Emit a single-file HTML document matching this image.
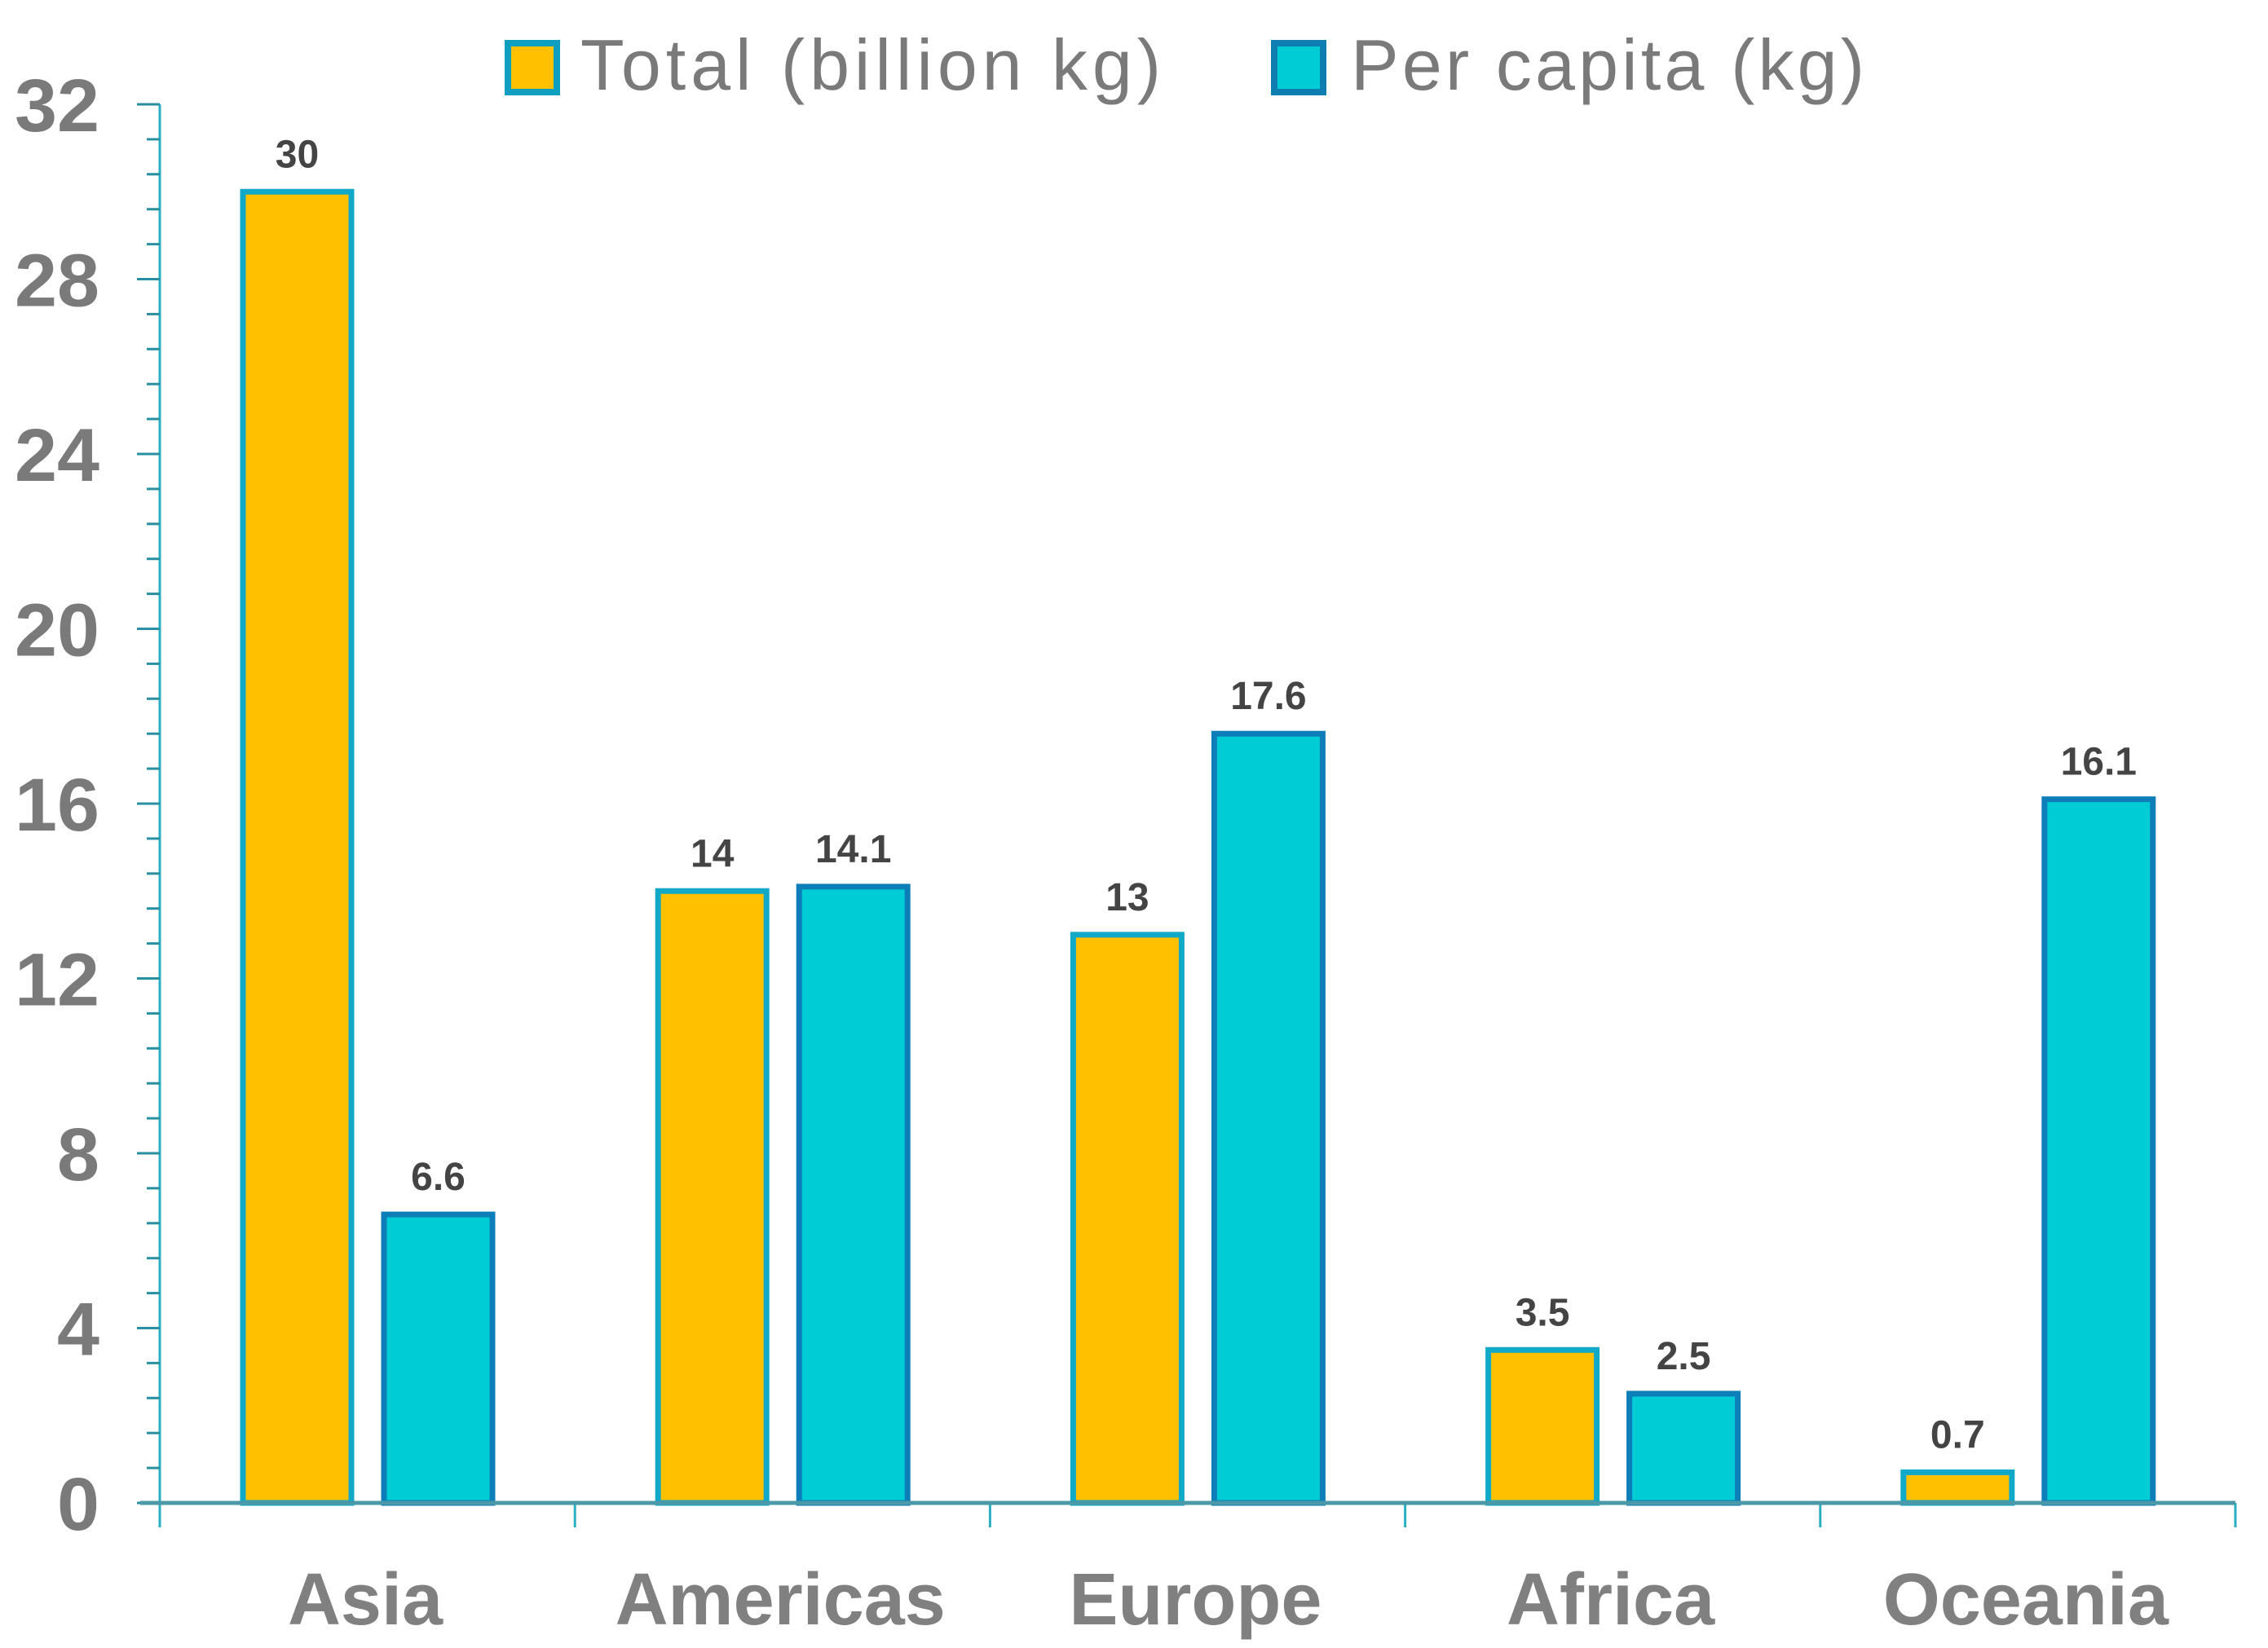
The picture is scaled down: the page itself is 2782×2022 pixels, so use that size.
<!DOCTYPE html>
<html><head><meta charset="utf-8"><style>
html,body{margin:0;padding:0;background:#fff;}
svg{display:block;}
</style></head><body>
<svg id="chart" width="2782" height="2022" viewBox="0 0 2782 2022" xmlns="http://www.w3.org/2000/svg">
<g>
  <rect x="623" y="53" width="60" height="60" fill="#FFC000" stroke="#0E9EC0" stroke-width="8"/>
  <text x="712" y="110" font-family="Liberation Sans, sans-serif" font-size="88" fill="#7a7a7a" textLength="712">Total (billion kg)</text>
  <rect x="1563" y="53" width="60" height="60" fill="#00CCD6" stroke="#0E7EB0" stroke-width="8"/>
  <text x="1657" y="110" font-family="Liberation Sans, sans-serif" font-size="88" fill="#7a7a7a" textLength="630">Per capita (kg)</text>
</g>
<g id="axes"></g>
<g id="bars"></g>
</svg>
<script>
const categories = ["Asia","Americas","Europe","Africa","Oceania"];
const totalValues = [30, 14, 13, 3.5, 0.7];
const perCapitaValues = [6.6, 14.1, 17.6, 2.5, 16.1];
const yTickLabels = [0, 4, 8, 12, 16, 20, 24, 28, 32];
const yMax = 32;

const NS = "http://www.w3.org/2000/svg";
const x0 = 196, x1 = 2742, yTop = 128, yZero = 1844;
const catW = (x1 - x0) / categories.length;
function yScale(v){ return yZero - (v / yMax) * (yZero - yTop); }
function xCat(i){ return x0 + i * catW; }
function mk(tag, attrs, parent){
  const el = document.createElementNS(NS, tag);
  for (const k in attrs) el.setAttribute(k, attrs[k]);
  parent.appendChild(el);
  return el;
}
const axes = document.getElementById("axes");
const bars = document.getElementById("bars");

const yl = mk("line", {x1:x0, y1:yTop, x2:x0, y2:yZero+10, stroke:"#2AAFC0", "stroke-width":3}, axes);



for (let k = 0; k <= 40; k++){
  const v = k * 0.8;
  const major = k % 5 === 0;
  const t = mk("line", {x1: major ? 168 : 180, y1: yScale(v), x2: x0, y2: yScale(v), stroke:"#2A8FA0", "stroke-width":3}, axes);
  
  
}
yTickLabels.forEach(v => {
  const s = String(v);
  const t = mk("text", {x:122, y:yScale(v)+33, "text-anchor":"end", "font-family":"Liberation Sans, sans-serif", "font-weight":"bold", "font-size":92, fill:"#7a7a7a", textLength: s.length*52, lengthAdjust:"spacingAndGlyphs"}, axes);
  t.textContent = s;
  
  
});

const barW = 133, offT = 102, offP = 275;
categories.forEach((c, i) => {
  const cx = xCat(i);
  const series = [
    {v: totalValues[i], off: offT, fill:"#FFC000", stroke:"#12A8C8", name:"bar-total-"},
    {v: perCapitaValues[i], off: offP, fill:"#00CCD6", stroke:"#0E7EB8", name:"bar-per-capita-"}
  ];
  series.forEach(s => {
    const yt = yScale(s.v);
    const r = mk("rect", {x: cx + s.off, y: yt, width: barW, height: yZero - yt, fill: s.fill, stroke: s.stroke, "stroke-width": 7}, bars);
    
    
    const lbl = mk("text", {x: cx + s.off + barW/2, y: yt - 30, "text-anchor":"middle", "font-family":"Liberation Sans, sans-serif", "font-weight":"bold", "font-size":48, fill:"#444"}, bars);
    lbl.textContent = s.v;
    
    
  });
  const cl = mk("text", {x: cx + 252, y: 1993, "text-anchor":"middle", "font-family":"Liberation Sans, sans-serif", "font-weight":"bold", "font-size":90, fill:"#808080"}, axes);
  cl.textContent = c;
  
  
});
for (let i = 0; i <= categories.length; i++){
  const s = mk("line", {x1: xCat(i), y1: yZero, x2: xCat(i), y2: yZero + 30, stroke:"#2AAFC0", "stroke-width":3}, axes);
  
  
}
const xl = mk("line", {x1:172, y1:yZero, x2:x1, y2:yZero, stroke:"#4A98A8", "stroke-width":5}, bars);


</script>
</body></html>
